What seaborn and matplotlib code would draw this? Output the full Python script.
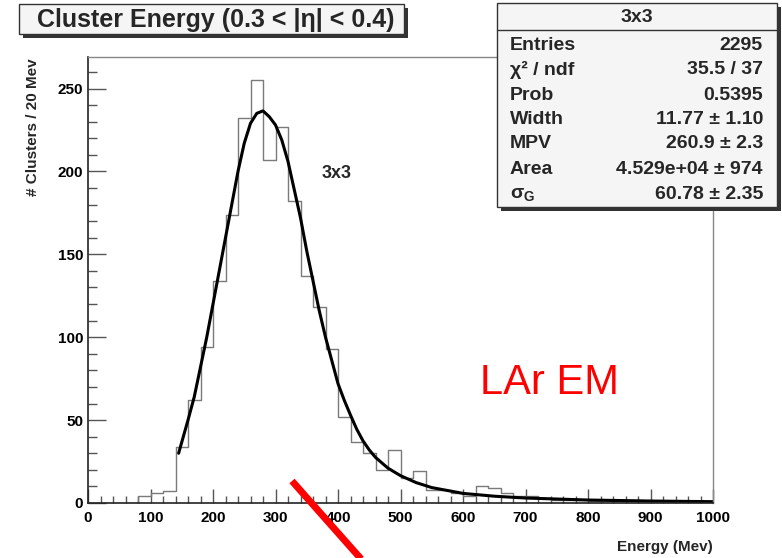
import numpy as np
import pandas as pd
import matplotlib
matplotlib.use("Agg")
import matplotlib.pyplot as plt
from matplotlib.patches import Rectangle
from matplotlib.lines import Line2D
import seaborn as sns

# histogram: 20 MeV bins from 0 to 1000
bin_edges = list(range(0, 1001, 20))
counts = [0, 0, 0, 0,
          4, 6, 7, 34, 62, 94, 134, 174, 232, 255,
          207, 227, 182, 137, 118, 93, 52, 37, 30, 20,
          32, 15, 19, 8, 8, 6, 4, 10, 9, 6,
          4, 4, 3, 2, 2, 2, 1, 1, 1, 1,
          1, 1, 1, 1, 0, 0]

# fitted Landau (x) Gauss curve
fit_e = [145, 160, 170, 180, 190, 200, 210, 220, 230, 240, 250, 260, 270, 280,
         290, 300, 310, 320, 330, 340, 350, 360, 370, 380, 390, 400, 410, 420,
         430, 440, 450, 460, 480, 500, 525, 550, 600, 650, 700, 800, 900, 1000]
fit_n = [30, 50, 64, 82, 100, 120, 140, 160, 180, 200, 217, 229, 235, 236.5,
         233, 228, 219, 206, 189, 172, 152, 134, 116, 100, 86, 72, 62, 53,
         44.5, 37.5, 32, 27.5, 21, 16.5, 12.3, 9.3, 5.8, 4.1, 3.0, 1.8, 1.2, 0.8]

stat_names = ["Entries", "χ² / ndf", "Prob", "Width", "MPV", "Area", r"$\sigma_{G}$"]
stat_values = ["2295", "35.5 / 37", "0.5395", "11.77 ± 1.10", "260.9 ± 2.3",
               "4.529e+04 ± 974", "60.78 ± 2.35"]

sns.set_style("ticks")
plt.rcParams['font.family'] = ['Liberation Sans', 'DejaVu Sans']
plt.rcParams['mathtext.fontset'] = 'custom'
plt.rcParams['mathtext.rm'] = 'Liberation Sans:bold'
plt.rcParams['mathtext.it'] = 'Liberation Sans:bold'

W, H = 782, 558
fig = plt.figure(figsize=(W / 100, H / 100), dpi=100)
fig.patch.set_facecolor("white")
ax = fig.add_axes([88 / W, 1 - 503 / H, (713 - 88) / W, (503 - 57) / H])

centers = [(a + b) / 2 for a, b in zip(bin_edges[:-1], bin_edges[1:])]
df = pd.DataFrame({"energy": centers, "n": counts})
sns.histplot(data=df, x="energy", weights="n", bins=bin_edges, element="step",
             fill=False, color="#7a7a7a", linewidth=1.0, ax=ax)
sns.lineplot(x=fit_e, y=fit_n, color="black", linewidth=2.2, ax=ax, sort=False)

ax.set_xlim(0, 1000)
ax.set_ylim(0, 269)
ax.set_xticks(range(0, 1001, 100))
ax.set_xticks(range(0, 1001, 20), minor=True)
ax.set_yticks(range(0, 251, 50))
ax.set_yticks(range(0, 270, 10), minor=True)
ax.tick_params(axis="both", which="both", direction="in", colors="#555555",
               labelcolor="black", labelsize=11)
ax.tick_params(axis="y", which="major", length=13, width=1)
ax.tick_params(axis="y", which="minor", length=6.5, width=1)
ax.tick_params(axis="x", which="major", length=10, width=1, pad=6)
ax.tick_params(axis="x", which="minor", length=5, width=1)
for lab in ax.get_xticklabels() + ax.get_yticklabels():
    lab.set_fontweight("bold")
for s in ["left", "bottom"]:
    ax.spines[s].set_color("#222222")
    ax.spines[s].set_linewidth(1.2)
for s in ["top", "right"]:
    ax.spines[s].set_color("#888888")
    ax.spines[s].set_linewidth(1.0)
ax.set_xlabel("")
ax.set_ylabel("")

fig.text(713 / W, 1 - 547 / H, "Energy (Mev)", ha="right", va="center",
         fontsize=11, fontweight="bold")
fig.text(33 / W, 1 - 58 / H, "# Clusters / 20 Mev", ha="center", va="top",
         rotation=90, fontsize=11, fontweight="bold")

ax.text(374, 199, "3x3", ha="left", va="center", fontsize=13, fontweight="bold")
ax.text(627, 66, "LAr EM", ha="left", va="baseline", fontsize=30, color="red")


def shadow_box(x0, y0, x1, y1):
    # ROOT style pave with drop shadow, pixel coords from the top-left
    fig.patches.append(Rectangle(((x0 + 4) / W, 1 - (y1 + 4) / H), (x1 - x0) / W,
                                 (y1 - y0) / H, transform=fig.transFigure,
                                 facecolor="#333333", edgecolor="none", zorder=5))
    fig.patches.append(Rectangle((x0 / W, 1 - y1 / H), (x1 - x0) / W, (y1 - y0) / H,
                                 transform=fig.transFigure, facecolor="#f5f5f5",
                                 edgecolor="#333333", linewidth=1.0, zorder=6))


# title pave
shadow_box(19, 4, 404, 34)
fig.text(216 / W, 1 - 20 / H, "Cluster Energy (0.3 < |η| < 0.4)", ha="center",
         va="center", fontsize=18, fontweight="bold", zorder=7)

# stats pave
shadow_box(497, 3, 777, 207)
fig.lines.append(Line2D([497 / W, 777 / W], [1 - 30 / H, 1 - 30 / H],
                        transform=fig.transFigure, color="#333333", lw=1.0, zorder=7))
fig.text(637 / W, 1 - 17 / H, "3x3", ha="center", va="center", fontsize=14,
         fontweight="bold", zorder=7)
row_y = [45, 70, 95, 119, 144, 170, 194]
for name, val, yy in zip(stat_names, stat_values, row_y):
    fig.text(510 / W, 1 - yy / H, name, ha="left", va="center", fontsize=14,
             fontweight="bold", zorder=7)
    fig.text(763 / W, 1 - yy / H, val, ha="right", va="center", fontsize=14,
             fontweight="bold", zorder=7)

# red slash
fig.lines.append(Line2D([292 / W, 362 / W], [1 - 481 / H, 1 - 560 / H],
                        transform=fig.transFigure, color="red", lw=5, zorder=8,
                        solid_capstyle="butt"))

fig.savefig("out.png", dpi=100)
